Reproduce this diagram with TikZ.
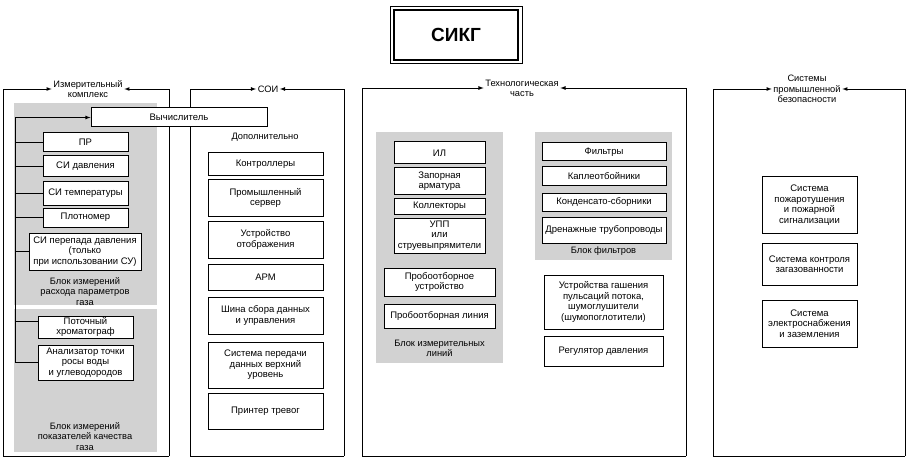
\documentclass[tikz,border=0pt]{standalone}
\usepackage{fontspec}
\setmainfont{Liberation Sans}

\tikzstyle{box}=[draw, fill=white, line width=1pt, align=center, inner sep=1pt, font=\fontsize{9.5}{10.5}\selectfont]
\tikzstyle{block}=[fill=gray!35, inner sep=0pt]
\tikzstyle{caption}=[align=center, inner sep=1.5pt, font=\fontsize{9.3}{10.3}\selectfont]
\tikzstyle{arrow}=[line width=0.8pt, -latex]
\tikzstyle{frame}=[line width=0.8pt]

\begin{document}
\begin{tikzpicture}[x=1pt, y=-1pt]
      \useasboundingbox (0,0) rectangle (912,465);

      % title
      \node[draw, line width=1.6pt, minimum width=124, minimum height=50, font=\fontsize{19}{21}\selectfont\bfseries] (sikg) at (456,35) {СИКГ};
      \draw[line width=0.6pt] ([shift={(-3pt,3pt)}]sikg.north west) rectangle ([shift={(3pt,-3pt)}]sikg.south east);

      % frame captions
      \node[caption] (ik) at (88,89) {Измерительный\\комплекс};
      \node[caption] (soi) at (268,89) {СОИ};
      \node[caption] (tech) at (522,88) {Технологическая\\часть};
      \node[caption] (psb) at (807,89) {Системы\\промышленной\\безопасности};

      \coordinate (ik-bl) at (3,456);
      \coordinate (ik-br) at (169,456);
      \coordinate (soi-bl) at (190,456);
      \coordinate (soi-br) at (344,456);
      \coordinate (tech-bl) at (362,456);
      \coordinate (tech-br) at (686,456);
      \coordinate (psb-bl) at (713,456);
      \coordinate (psb-br) at (905,456);

      \draw[arrow] (ik-bl) |- (ik.west);
      \draw[arrow] (ik-br) |- (ik.east);
      \draw[frame] (ik-bl) -- (ik-br);
      \draw[arrow] (soi-bl) |- (soi.west);
      \draw[arrow] (soi-br) |- (soi.east);
      \draw[frame] (soi-bl) -- (soi-br);
      \draw[arrow] (tech-bl) |- (tech.west);
      \draw[arrow] (tech-br) |- (tech.east);
      \draw[frame] (tech-bl) -- (tech-br);
      \draw[arrow] (psb-bl) |- (psb.west);
      \draw[arrow] (psb-br) |- (psb.east);
      \draw[frame] (psb-bl) -- (psb-br);

      % measuring complex
      \node[block, minimum width=143, minimum height=202] (flow) at (85.5,204) {};
      \node[block, minimum width=143, minimum height=143] (quality) at (85.5,380.5) {};
      \node[caption] (flow-lbl) at (85,291.5) {Блок измерений\\расхода параметров\\газа};
      \node[caption] (quality-lbl) at (85,436.5) {Блок измерений\\показателей качества\\газа};

      \node[box, minimum width=176, minimum height=19] (calc) at (179,117.5) {Вычислитель};
      \node[box, minimum width=85, minimum height=19] (pr) at (85.5,142.5) {ПР};
      \node[box, minimum width=85, minimum height=21] (sip) at (85.5,166.5) {СИ давления};
      \node[box, minimum width=85, minimum height=23] (sit) at (85.5,193.5) {СИ температуры};
      \node[box, minimum width=85, minimum height=19] (dens) at (85.5,217.5) {Плотномер};
      \node[box, minimum width=112, minimum height=37] (sidp) at (85,251.5) {СИ перепада давления\\(только\\при использовании СУ)};
      \node[box, minimum width=95, minimum height=22] (chrom) at (85.5,327) {Поточный\\хроматограф};
      \node[box, minimum width=95, minimum height=35] (dew) at (85.5,362.5) {Анализатор точки\\росы воды\\и углеводородов};

      \coordinate (bus) at (15,362.5);
      \draw[arrow] (bus) |- (calc.west);
      \draw[frame] (pr.west) -- (pr.west -| bus);
      \draw[frame] (sip.west) -- (sip.west -| bus);
      \draw[frame] (sit.west) -- (sit.west -| bus);
      \draw[frame] (dens.west) -- (dens.west -| bus);
      \draw[frame] (sidp.west) -- (sidp.west -| bus);
      \draw[frame] ([yshift=6pt]chrom.west) -- ([yshift=6pt]chrom.west -| bus);
      \draw[frame] (dew.west) -- (bus);

      % SOI
      \node[caption] (extra) at (265,137) {Дополнительно};
      \node[box, minimum width=115, minimum height=23] (ctrl) at (265.5,164.5) {Контроллеры};
      \node[box, minimum width=115, minimum height=36] (srv) at (265.5,198) {Промышленный\\сервер};
      \node[box, minimum width=115, minimum height=37] (disp) at (265.5,239.5) {Устройство\\отображения};
      \node[box, minimum width=115, minimum height=26] (arm) at (265.5,277) {АРМ};
      \node[box, minimum width=115, minimum height=37] (fbus) at (265.5,315.5) {Шина сбора данных\\и управления};
      \node[box, minimum width=115, minimum height=46] (upper) at (265.5,365) {Система передачи\\данных верхний\\уровень};
      \node[box, minimum width=115, minimum height=36] (alarm) at (265.5,411) {Принтер тревог};

      % technological part
      \node[block, minimum width=127, minimum height=231] (lines) at (439.5,247.5) {};
      \node[caption] (lines-lbl) at (439.5,348.5) {Блок измерительных\\линий};
      \node[box, minimum width=91, minimum height=22] (il) at (439.5,153) {ИЛ};
      \node[box, minimum width=91, minimum height=26] (valve) at (439.5,181) {Запорная\\арматура};
      \node[box, minimum width=91, minimum height=16] (coll) at (439.5,206) {Коллекторы};
      \node[box, minimum width=91, minimum height=35] (upp) at (439.5,235.5) {УПП\\или\\струевыпрямители};
      \node[box, minimum width=111, minimum height=28] (sampler) at (439.5,282) {Пробоотборное\\устройство};
      \node[box, minimum width=111, minimum height=24] (sline) at (439.5,316) {Пробоотборная линия};

      \node[block, minimum width=137, minimum height=128] (filters) at (603.5,196) {};
      \node[caption] (filters-lbl) at (603.5,251) {Блок фильтров};
      \node[box, minimum width=124, minimum height=18] (filt) at (604,152) {Фильтры};
      \node[box, minimum width=124, minimum height=19] (drop) at (604,176.5) {Каплеотбойники};
      \node[box, minimum width=124, minimum height=18] (cond) at (604,202) {Конденсато-сборники};
      \node[box, minimum width=124, minimum height=26] (drain) at (604,230) {Дренажные трубопроводы};
      \node[box, minimum width=119, minimum height=54] (damp) at (603.5,302) {Устройства гашения\\пульсаций потока,\\шумоглушители\\(шумопоглотители)};
      \node[box, minimum width=119, minimum height=30] (preg) at (603.5,351) {Регулятор давления};

      % industrial safety
      \node[box, minimum width=95, minimum height=56] (fire) at (809.5,205) {Система\\пожаротушения\\и пожарной\\сигнализации};
      \node[box, minimum width=95, minimum height=42] (gas) at (809.5,264) {Система контроля\\загазованности};
      \node[box, minimum width=95, minimum height=47] (power) at (809.5,323.5) {Система\\электроснабжения\\и заземления};
\end{tikzpicture}
\end{document}
